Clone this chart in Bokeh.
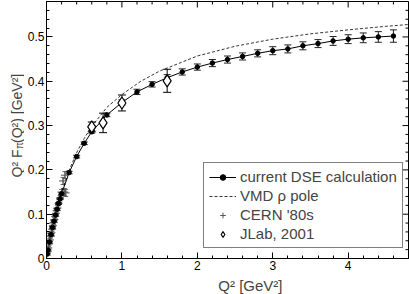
import math
from bokeh.plotting import figure
from bokeh.layouts import row, column
from bokeh.models import (ColumnDataSource, Whisker, TeeHead, Legend,
                          LegendItem, Label, Range1d, SingleIntervalTicker,
                          NumeralTickFormatter)
from bokeh.embed import file_html
from bokeh.resources import INLINE

FONT = "Liberation Sans"

# current DSE calculation
dse_q = [0.01, 0.02, 0.04, 0.06, 0.08, 0.10, 0.12, 0.14, 0.16, 0.18, 0.20, 0.30, 0.40,
         0.50, 0.60, 0.80, 1.0, 1.2, 1.4, 1.6, 1.8, 2.0, 2.2, 2.4, 2.6, 2.8, 3.0, 3.2,
         3.4, 3.6, 3.8, 4.0, 4.2, 4.4, 4.6]
dse_v = [0.010, 0.019, 0.037, 0.054, 0.070, 0.084, 0.098, 0.111, 0.124, 0.135, 0.146,
         0.194, 0.230, 0.260, 0.286, 0.324, 0.352, 0.376, 0.393, 0.408, 0.421, 0.432,
         0.441, 0.449, 0.456, 0.463, 0.469, 0.473, 0.480, 0.485, 0.491, 0.495, 0.498,
         0.500, 0.502]
dse_err = [0.002, 0.002, 0.002, 0.002, 0.002, 0.002, 0.002, 0.002, 0.002, 0.002, 0.002,
           0.003, 0.003, 0.003, 0.003, 0.004, 0.006, 0.006, 0.006, 0.007, 0.007, 0.007,
           0.008, 0.008, 0.008, 0.008, 0.009, 0.009, 0.009, 0.009, 0.010, 0.010, 0.011,
           0.012, 0.014]

# VMD rho pole
vmd_q = [0.0, 0.05, 0.1, 0.2, 0.3, 0.4, 0.5, 0.6, 0.8, 1.0, 1.25, 1.5, 2.0, 2.5, 3.0,
         3.5, 4.0, 4.5, 4.8]
vmd_v = [0.0, 0.046, 0.086, 0.150, 0.199, 0.239, 0.271, 0.298, 0.341, 0.370, 0.400,
         0.423, 0.457, 0.479, 0.495, 0.507, 0.516, 0.524, 0.528]

# CERN '80s
cern_q = [0.015, 0.025, 0.035, 0.045, 0.055, 0.065, 0.075, 0.085, 0.095, 0.105, 0.115,
          0.125, 0.135, 0.145, 0.160, 0.180, 0.200, 0.220, 0.235, 0.245, 0.255]
cern_v = [0.015, 0.024, 0.033, 0.042, 0.050, 0.058, 0.066, 0.074, 0.081, 0.088, 0.095,
          0.102, 0.108, 0.114, 0.124, 0.136, 0.150, 0.175, 0.150, 0.188, 0.148]
cern_err = [0.003, 0.003, 0.003, 0.003, 0.003, 0.003, 0.004, 0.004, 0.004, 0.004, 0.004,
            0.005, 0.005, 0.005, 0.005, 0.006, 0.006, 0.008, 0.008, 0.008, 0.008]

# JLab, 2001
jlab_q = [0.60, 0.75, 1.00, 1.60]
jlab_v = [0.297, 0.306, 0.351, 0.401]
jlab_err = [0.011, 0.022, 0.018, 0.026]

# axes
x_range = (0.0, 4.8)
y_range = (0.0, 0.58)
x_major = [0, 1, 2, 3, 4]
y_major = [0.0, 0.1, 0.2, 0.3, 0.4, 0.5]
x_minor = [round(0.2 * i, 2) for i in range(0, 25) if i % 5 != 0]
y_minor = [round(0.02 * i, 2) for i in range(0, 29) if i % 5 != 0]

W, H = 409, 294
YLAB_W = 24
XLAB_H = 20

p = figure(width=W - YLAB_W, height=H - XLAB_H, output_backend="svg",
           toolbar_location=None,
           x_range=Range1d(*x_range), y_range=Range1d(*y_range),
           min_border_left=18, min_border_right=1, min_border_top=1,
           min_border_bottom=16)
p.xgrid.visible = False
p.ygrid.visible = False
p.outline_line_color = "black"
p.outline_line_width = 1


def style_axis(ax):
    ax.major_tick_in = 6
    ax.major_tick_out = 0
    ax.minor_tick_in = 3
    ax.minor_tick_out = 0
    ax.axis_line_color = "black"
    ax.major_tick_line_color = "black"
    ax.minor_tick_line_color = "black"
    ax.major_label_text_font = FONT
    ax.major_label_text_font_size = "12px"
    ax.major_label_text_color = "black"
    ax.major_label_standoff = 2


xa = p.xaxis[0]
xa.ticker = SingleIntervalTicker(interval=1, num_minor_ticks=5)
style_axis(xa)
ya = p.yaxis[0]
ya.ticker = SingleIntervalTicker(interval=0.1, num_minor_ticks=5)
ya.formatter = NumeralTickFormatter(format="0.[0]")
style_axis(ya)

# mirrored ticks on the top and right edges (half of each dash is clipped)
p.scatter(x_major, [y_range[1]] * len(x_major), marker="dash", angle=math.pi / 2,
          size=12, line_color="black", line_width=1)
p.scatter(x_minor, [y_range[1]] * len(x_minor), marker="dash", angle=math.pi / 2,
          size=6, line_color="black", line_width=1)
p.scatter([x_range[1]] * len(y_major), y_major, marker="dash",
          size=12, line_color="black", line_width=1)
p.scatter([x_range[1]] * len(y_minor), y_minor, marker="dash",
          size=6, line_color="black", line_width=1)

# glyphs
vmd_r = p.line(vmd_q, vmd_v, line_color="black", line_width=0.8, line_dash="3 2")
dse_line = p.line(dse_q, dse_v, line_color="black", line_width=1)


def src(xs, ys, es):
    return ColumnDataSource(dict(x=xs, y=ys,
                                 lo=[v - e for v, e in zip(ys, es)],
                                 hi=[v + e for v, e in zip(ys, es)]))


dse_src = src(dse_q, dse_v, dse_err)
cern_src = src(cern_q, cern_v, cern_err)
jlab_src = src(jlab_q, jlab_v, jlab_err)


def whisker(s, color, size):
    p.add_layout(Whisker(base="x", lower="lo", upper="hi", source=s, line_color=color,
                         line_width=1,
                         upper_head=TeeHead(size=size, line_color=color, line_width=1),
                         lower_head=TeeHead(size=size, line_color=color, line_width=1)))


whisker(cern_src, "#666666", 5)
cern_r = p.scatter("x", "y", source=cern_src, marker="cross", size=8,
                   line_color="#555555", line_width=1)
whisker(dse_src, "#222222", 7)
dse_pts = p.scatter("x", "y", source=dse_src, marker="circle", size=4.5,
                    fill_color="black", line_color="black")
whisker(jlab_src, "black", 8)
jlab_r = p.scatter("x", "y", source=jlab_src, marker="diamond", size=12,
                   fill_color="white", line_color="black", line_width=1.2)

legend = Legend(items=[
    LegendItem(label="current DSE calculation", renderers=[dse_line, dse_pts]),
    LegendItem(label="VMD \u03c1 pole", renderers=[vmd_r]),
    LegendItem(label="CERN '80s", renderers=[cern_r]),
    LegendItem(label="JLab, 2001", renderers=[jlab_r]),
], location=(157, 10))
legend.border_line_color = "black"
legend.border_line_width = 1
legend.background_fill_color = "white"
legend.background_fill_alpha = 1
legend.label_text_font = FONT
legend.label_text_font_size = "15px"
legend.label_height = 16
legend.glyph_height = 14
legend.glyph_width = 27
legend.spacing = 2
legend.padding = 5
legend.margin = 0
legend.label_standoff = 4
p.add_layout(legend)


def strip(w, h):
    f = figure(width=w, height=h, output_backend="svg", toolbar_location=None,
               x_axis_type=None, y_axis_type=None, x_range=Range1d(0, 1),
               y_range=Range1d(0, 1), min_border=0)
    f.outline_line_color = None
    f.xgrid.visible = False
    f.ygrid.visible = False
    return f


# y-axis title (with subscript pi) in a narrow strip to the left
ylab = strip(YLAB_W, H)
y0 = 117
bx = 16
ylab.add_layout(Label(x=bx, y=y0, x_units="screen", y_units="screen", text="Q\u00b2 F",
                      angle=math.pi / 2, text_font=FONT, text_font_size="14px",
                      text_align="left", text_baseline="alphabetic"))
ylab.add_layout(Label(x=bx + 2.5, y=y0 + 28.5, x_units="screen", y_units="screen",
                      text="\u03c0", angle=math.pi / 2, text_font=FONT,
                      text_font_size="10px", text_align="left",
                      text_baseline="alphabetic"))
ylab.add_layout(Label(x=bx, y=y0 + 34.5, x_units="screen", y_units="screen",
                      text="(Q\u00b2)  [GeV\u00b2]", angle=math.pi / 2, text_font=FONT,
                      text_font_size="14px", text_align="left",
                      text_baseline="alphabetic"))

# x-axis title in a strip below
xlab = strip(W - YLAB_W, XLAB_H)
xlab.add_layout(Label(x=206, y=1, x_units="screen", y_units="screen",
                      text="Q\u00b2  [GeV\u00b2]", text_font=FONT,
                      text_font_size="15px", text_align="center",
                      text_baseline="bottom"))

layout = row(ylab, column(p, xlab, spacing=0), spacing=0)
open("out.html", "w").write(file_html(layout, INLINE))
